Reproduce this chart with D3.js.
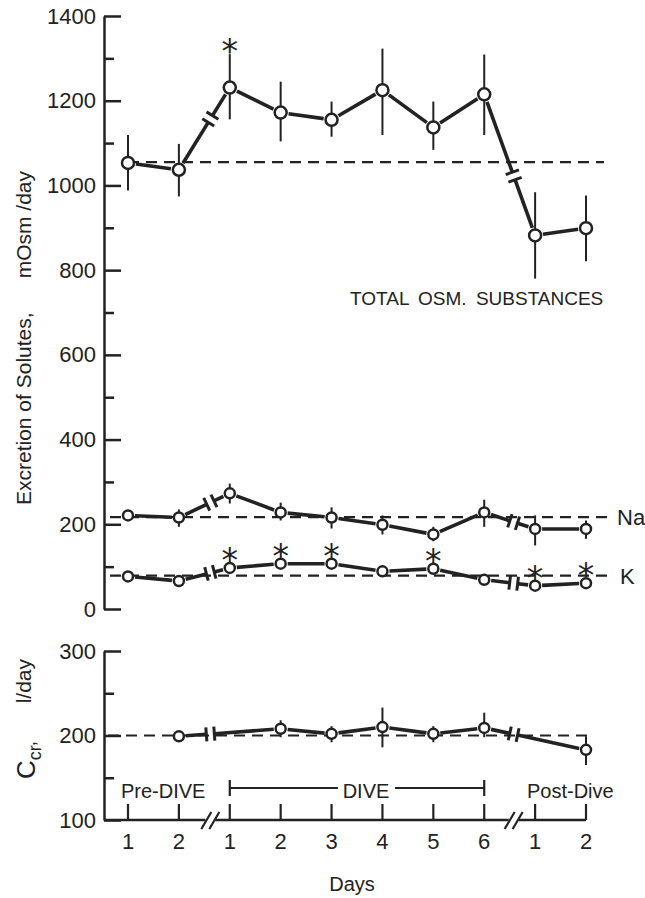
<!DOCTYPE html>
<html>
<head>
<meta charset="utf-8">
<script src="https://cdn.jsdelivr.net/npm/d3@7"></script>
<style>
  body { margin: 0; background: #fff; }
  text { font-family: "Liberation Sans", Arial, sans-serif; fill: #222; }
</style>
</head>
<body>
<script>
// day labels along the x axis (Pre-DIVE 1-2, DIVE 1-6, Post-Dive 1-2)
const dayLabels = ["1", "2", "1", "2", "3", "4", "5", "6", "1", "2"];

// total osmotic substances, mOsm/day
const totalMean = [1053, 1037, 1231, 1172, 1155, 1225, 1137, 1215, 882, 899];
const totalLo = [988, 974, 1156, 1104, 1115, 1119, 1084, 1119, 780, 821];
const totalHi = [1119, 1098, 1310, 1245, 1198, 1323, 1198, 1309, 984, 976];
const totalStar = [0, 0, 1, 0, 0, 0, 0, 0, 0, 0];
const totalRef = 1055;

// sodium
const naMean = [221, 216, 273, 228, 216, 199, 176, 228, 189, 189];
const naLo = [214, 194, 249, 209, 190, 176, 160, 194, 150, 166];
const naHi = [228, 235, 296, 251, 240, 221, 194, 258, 221, 209];
const naRef = 217;

// potassium
const kMean = [77, 66, 97, 107, 107, 89, 95, 69, 55, 61];
const kLo = [70, 59, 89, 100, 100, 82, 88, 62, 45, 52];
const kHi = [84, 73, 105, 114, 114, 96, 102, 76, 65, 70];
const kStar = [0, 0, 1, 1, 1, 0, 1, 0, 1, 1];
const kRef = 79;

// creatinine clearance, l/day
const ccrMean = [null, 199, null, 208, 202, 210, 202, 209, null, 183];
const ccrLo = [null, 195, null, 198, 192, 186, 192, 198, null, 165];
const ccrHi = [null, 203, null, 218, 211, 233, 211, 227, null, 199];
const ccrRef = 200;

const topTicks = [0, 200, 400, 600, 800, 1000, 1200, 1400];
const topMinor = [100, 300, 500, 700, 900, 1100, 1300];
const botTicks = [100, 200, 300];
const botMinor = [150, 250];

const W = 645;
const H = 898;
const ink = "#222";

const svg = d3.select("body").append("svg").attr("width", W).attr("height", H);

const x = d3.scaleLinear().domain([0, 9]).range([128, 586]);
const yTop = d3.scaleLinear().domain([0, 1400]).range([609, 16]);
const yBot = d3.scaleLinear().domain([100, 300]).range([820, 651]);
const axisX = 104;
const breaksX = [x(1.5) + 6, x(7.5) + 4];

const drawYAxis = (scale, major, minor) => {
  const g = svg.append("g").attr("transform", `translate(${axisX},0)`);
  g.call(
    d3.axisLeft(scale)
      .tickValues(major)
      .tickSize(-17)
      .tickSizeOuter(0)
      .tickPadding(8)
      .tickFormat(d3.format("d"))
  );
  g.selectAll("text").style("font-size", "22px").attr("fill", ink);
  const gm = svg.append("g").attr("transform", `translate(${axisX},0)`);
  gm.call(d3.axisLeft(scale).tickValues(minor).tickSize(-10).tickFormat(""));
  gm.select(".domain").remove();
  [g, gm].forEach((a) => a.selectAll("line,path").attr("stroke", ink).attr("stroke-width", 2.5));
};

drawYAxis(yTop, topTicks, topMinor);
drawYAxis(yBot, botTicks, botMinor);

// x axis with broken segments
const xAxisY = yBot(100);
const xg = svg.append("g");
const xSegs = [
  [axisX, breaksX[0] - 5],
  [breaksX[0] + 5, breaksX[1] - 5],
  [breaksX[1] + 5, x(9)],
];
xSegs.forEach(([a, b]) => {
  xg.append("line")
    .attr("x1", a).attr("x2", b)
    .attr("y1", xAxisY).attr("y2", xAxisY)
    .attr("stroke", ink).attr("stroke-width", 2.5);
});
breaksX.forEach((bx) => {
  [-5, 3].forEach((o) => {
    xg.append("line")
      .attr("x1", bx + o - 4).attr("y1", xAxisY + 9)
      .attr("x2", bx + o + 6).attr("y2", xAxisY - 8)
      .attr("stroke", ink).attr("stroke-width", 2.2);
  });
});
xg.selectAll(".xtick")
  .data(dayLabels)
  .join("line")
  .attr("x1", (d, i) => x(i)).attr("x2", (d, i) => x(i))
  .attr("y1", xAxisY).attr("y2", xAxisY - 16)
  .attr("stroke", ink).attr("stroke-width", 2.2);
xg.selectAll(".xlab")
  .data(dayLabels)
  .join("text")
  .attr("x", (d, i) => x(i))
  .attr("y", xAxisY + 29)
  .attr("text-anchor", "middle")
  .style("font-size", "22px")
  .text((d) => d);

// period labels
const periodY = 798;
svg.append("text").attr("x", 121).attr("y", periodY).style("font-size", "20px").text("Pre-DIVE");
svg.append("text").attr("x", 527).attr("y", periodY).style("font-size", "20px").text("Post-Dive");
svg.append("text").attr("x", 366).attr("y", periodY).attr("text-anchor", "middle")
  .style("font-size", "20px").text("DIVE");
const brY = 788;
[[x(2), 338], [395, x(7)]].forEach(([a, b]) => {
  svg.append("line").attr("x1", a).attr("x2", b).attr("y1", brY).attr("y2", brY)
    .attr("stroke", ink).attr("stroke-width", 2);
});
[x(2), x(7)].forEach((bx) => {
  svg.append("line").attr("x1", bx).attr("x2", bx).attr("y1", brY - 8).attr("y2", brY + 8)
    .attr("stroke", ink).attr("stroke-width", 2.2);
});

svg.append("text").attr("x", 352).attr("y", 891).attr("text-anchor", "middle")
  .style("font-size", "20px").text("Days");

// y labels
svg.append("text")
  .attr("transform", "translate(31,505) rotate(-90)")
  .style("font-size", "21px")
  .text("Excretion of Solutes,");
svg.append("text")
  .attr("transform", "translate(31,171) rotate(-90)")
  .attr("text-anchor", "end")
  .style("font-size", "21px")
  .text("mOsm /day");
const ccrLab = svg.append("text").attr("transform", "translate(35,779) rotate(-90)");
ccrLab.append("tspan").style("font-size", "26px").text("C");
ccrLab.append("tspan").attr("dy", 6).style("font-size", "18px").text("cr");
ccrLab.append("tspan").attr("dy", -6).style("font-size", "18px").text(",");
svg.append("text")
  .attr("transform", "translate(31,659) rotate(-90)")
  .attr("text-anchor", "end")
  .style("font-size", "21px")
  .text("l/day");

// reference dashed lines
const dashed = (y, x1, x2) => {
  svg.append("line").attr("x1", x1).attr("x2", x2).attr("y1", y).attr("y2", y)
    .attr("stroke", ink).attr("stroke-width", 2.2).attr("stroke-dasharray", "11,7");
};
dashed(yTop(totalRef), x(0), 604);
dashed(yTop(naRef), 110, 613);
dashed(yTop(kRef), 110, 613);
dashed(yBot(ccrRef), 108, 592);

svg.append("text").attr("x", 617).attr("y", yTop(naRef) + 8).style("font-size", "22px").text("Na");
svg.append("text").attr("x", 620).attr("y", yTop(kRef) + 8).style("font-size", "22px").text("K");
svg.append("text").attr("x", 350).attr("y", 305).style("font-size", "19px")
  .style("word-spacing", "4px").text("TOTAL OSM. SUBSTANCES");

const seg = (g, p, q, w) => {
  g.append("line").attr("x1", p[0]).attr("y1", p[1]).attr("x2", q[0]).attr("y2", q[1])
    .attr("stroke", ink).attr("stroke-width", w).attr("stroke-linecap", "butt");
};

const drawSeries = (mean, lo, hi, y, r, stars, starAbove) => {
  const g = svg.append("g");
  const pts = mean.map((v, i) => ({ i, v })).filter((d) => d.v !== null);
  for (let k = 1; k < pts.length; k++) {
    const a = [x(pts[k - 1].i), y(pts[k - 1].v)];
    const b = [x(pts[k].i), y(pts[k].v)];
    const dx = b[0] - a[0];
    const dy = b[1] - a[1];
    const len = Math.hypot(dx, dy);
    const ux = dx / len;
    const uy = dy / len;
    const at = (d) => [a[0] + ux * d, a[1] + uy * d];
    const trimA = r + 2;
    const trimB = len - (r + 2);
    const bx = breaksX.find((v) => v > a[0] && v < b[0]);
    if (bx === undefined) {
      seg(g, at(trimA), at(trimB), 3.6);
    } else {
      const dB = ((bx - a[0]) / dx) * len;
      const p1 = at(dB - 4);
      const p2 = at(dB + 4);
      seg(g, at(trimA), p1, 3.6);
      seg(g, p2, at(trimB), 3.6);
      [p1, p2].forEach((p) => {
        seg(g, [p[0] - uy * 7, p[1] + ux * 7], [p[0] + uy * 7, p[1] - ux * 7], 3);
      });
    }
  }
  g.selectAll(".err")
    .data(pts)
    .join("line")
    .attr("x1", (d) => x(d.i)).attr("x2", (d) => x(d.i))
    .attr("y1", (d) => y(lo[d.i])).attr("y2", (d) => y(hi[d.i]))
    .attr("stroke", ink).attr("stroke-width", 2);
  g.selectAll(".pt")
    .data(pts)
    .join("circle")
    .attr("cx", (d) => x(d.i)).attr("cy", (d) => y(d.v))
    .attr("r", r)
    .attr("fill", "#fff").attr("stroke", ink).attr("stroke-width", 2.5);
  if (stars) {
    g.selectAll(".star")
      .data(pts.filter((d) => stars[d.i]))
      .join("text")
      .attr("x", (d) => x(d.i))
      .attr("y", (d) => starAbove(d) + 20)
      .attr("text-anchor", "middle")
      .style("font-family", "DejaVu Sans")
      .style("font-size", "33px")
      .text("*");
  }
};

drawSeries(totalMean, totalLo, totalHi, yTop, 6, totalStar, (d) => yTop(totalHi[d.i]) - 11);
drawSeries(naMean, naLo, naHi, yTop, 5, null, null);
drawSeries(kMean, kLo, kHi, yTop, 5, kStar, (d) => yTop(kMean[d.i]) - 16);
drawSeries(ccrMean, ccrLo, ccrHi, yBot, 5, null, null);
</script>
</body>
</html>
